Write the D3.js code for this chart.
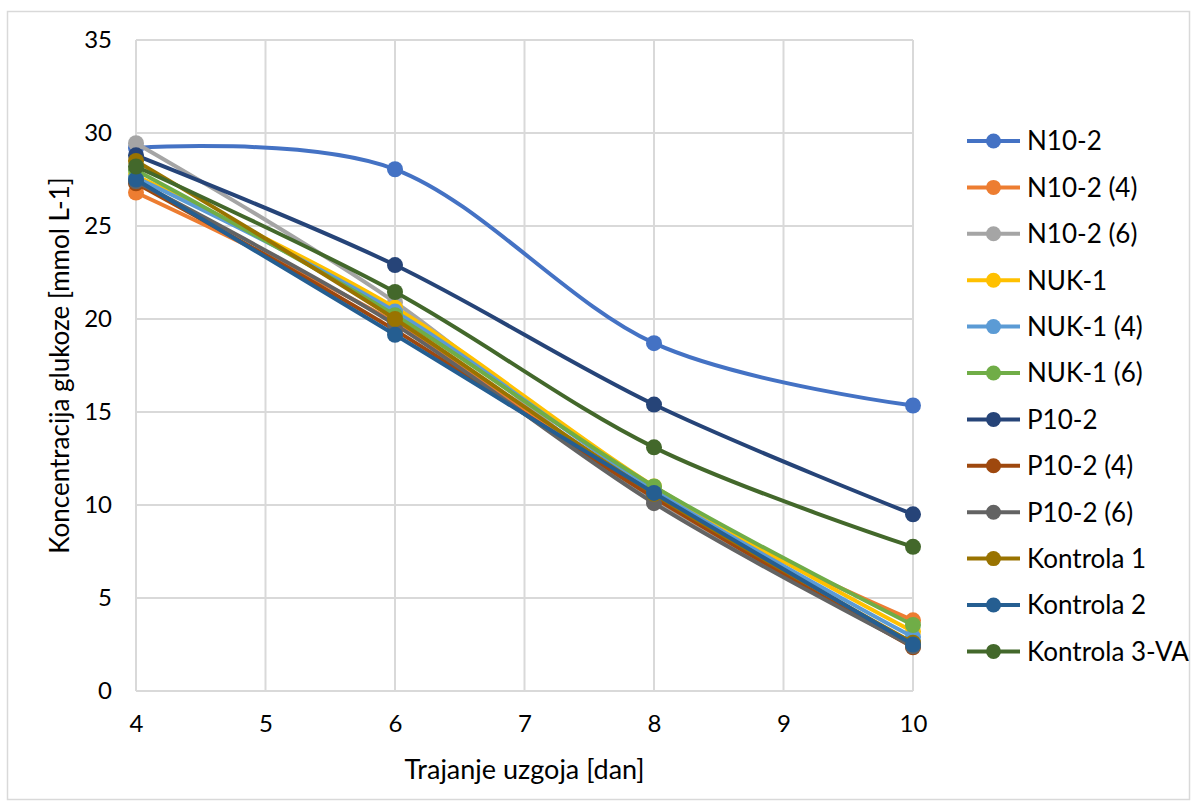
<!DOCTYPE html>
<html><head><meta charset="utf-8">
<script src="https://cdn.jsdelivr.net/npm/d3@7"></script>
<style>body{margin:0;background:#fff;}svg{display:block;font-family:Lato,"Open Sans",sans-serif;}</style>
</head><body><svg id="c" width="1197" height="809"></svg>
<script>
const days = [4, 6, 8, 10];
const seriesNames = ["N10-2","N10-2 (4)","N10-2 (6)","NUK-1","NUK-1 (4)","NUK-1 (6)","P10-2","P10-2 (4)","P10-2 (6)","Kontrola 1","Kontrola 2","Kontrola 3-VA"];
const N10_2      = [29.2, 28.05, 18.7, 15.35];
const N10_2_4    = [26.8, 19.8, 10.5, 3.8];
const N10_2_6    = [29.45, 20.9, 10.2, 2.6];
const NUK_1      = [27.7, 20.6, 11.0, 3.2];
const NUK_1_4    = [27.6, 20.4, 10.8, 2.9];
const NUK_1_6    = [28.0, 20.2, 11.0, 3.55];
const P10_2      = [28.8, 22.9, 15.4, 9.5];
const P10_2_4    = [27.3, 19.4, 10.4, 2.35];
const P10_2_6    = [27.4, 19.7, 10.1, 2.4];
const Kontrola1  = [28.5, 20.0, 10.6, 2.6];
const Kontrola2  = [27.5, 19.15, 10.65, 2.5];
const Kontrola3  = [28.2, 21.45, 13.1, 7.75];
const seriesValues = [N10_2,N10_2_4,N10_2_6,NUK_1,NUK_1_4,NUK_1_6,P10_2,P10_2_4,P10_2_6,Kontrola1,Kontrola2,Kontrola3];
const colors = ["#4472C4","#ED7D31","#A5A5A5","#FFC000","#5B9BD5","#70AD47","#264478","#9E480E","#636363","#997300","#255E91","#43682B"];
const xTicks = [4,5,6,7,8,9,10];
const yTicks = [0,5,10,15,20,25,30,35];

const svg = d3.select("#c");
svg.append("rect").attr("x",7.5).attr("y",11.5).attr("width",1182).attr("height",788)
  .attr("fill","#fff").attr("stroke","#d9d9d9").attr("stroke-width",1.5);

const L=136, R=913, T=40, B=691;
const x = d3.scaleLinear().domain([4,10]).range([L,R]);
const y = d3.scaleLinear().domain([0,35]).range([B,T]);

const g = svg.append("g");
g.selectAll(".vg").data(xTicks).join("line")
  .attr("x1",d=>x(d)).attr("x2",d=>x(d)).attr("y1",T).attr("y2",B)
  .attr("stroke","#d9d9d9").attr("stroke-width",2);
g.selectAll(".hg").data(yTicks).join("line")
  .attr("x1",L).attr("x2",R).attr("y1",d=>y(d)).attr("y2",d=>y(d))
  .attr("stroke","#d9d9d9").attr("stroke-width",2);

const FS = 24;
const yAxis = d3.axisLeft(y).tickValues(yTicks).tickFormat(d3.format("d")).tickSize(0).tickPadding(24);
const ya = svg.append("g").attr("transform",`translate(${L},0)`).call(yAxis);
ya.select(".domain").remove();
ya.selectAll("text").attr("font-size",FS).attr("fill","#000").attr("font-family","Lato,'Open Sans',sans-serif");

const xAxis = d3.axisBottom(x).tickValues(xTicks).tickFormat(d3.format("d")).tickSize(0).tickPadding(24);
const xa = svg.append("g").attr("transform",`translate(0,${B})`).call(xAxis);
xa.select(".domain").remove();
xa.selectAll("text").attr("font-size",FS).attr("fill","#000").attr("font-family","Lato,'Open Sans',sans-serif");

const line = d3.line().x((d,i)=>x(days[i])).y(d=>y(d)).curve(d3.curveCardinal.tension(0));
seriesValues.forEach((vals,si)=>{
  const sg = svg.append("g");
  sg.append("path").datum(vals).attr("d",line).attr("fill","none")
    .attr("stroke",colors[si]).attr("stroke-width",4).attr("stroke-linecap","round").attr("stroke-linejoin","round");
  sg.selectAll("circle").data(vals).join("circle")
    .attr("cx",(d,i)=>x(days[i])).attr("cy",d=>y(d)).attr("r",8).attr("fill",colors[si]);
});

svg.append("text").attr("x",x(7)).attr("y",779).attr("text-anchor","middle")
  .attr("font-size",27).text("Trajanje uzgoja [dan]");
svg.append("text").attr("transform",`translate(69,${(T+B)/2}) rotate(-90)`).attr("text-anchor","middle")
  .attr("font-size",26).text("Koncentracija glukoze [mmol L-1]");

const lg = svg.append("g");
seriesNames.forEach((n,i)=>{
  const yy = 141 + i*46.4;
  lg.append("line").attr("x1",967).attr("x2",1020).attr("y1",yy).attr("y2",yy)
    .attr("stroke",colors[i]).attr("stroke-width",4);
  lg.append("circle").attr("cx",993.5).attr("cy",yy).attr("r",7.5).attr("fill",colors[i]);
  lg.append("text").attr("x",1027).attr("y",yy).attr("dy","0.36em").attr("font-size",26).text(n);
});
</script></body></html>
